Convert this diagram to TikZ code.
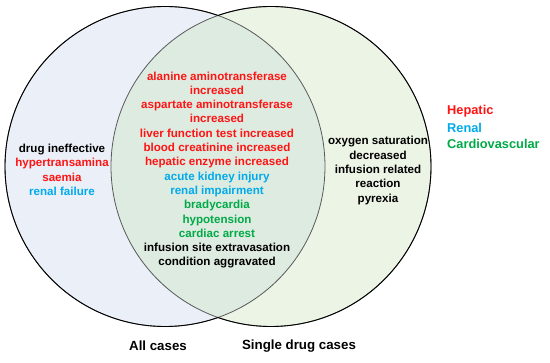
\documentclass[tikz,border=0pt]{standalone}
\usepackage{fontspec}
\setmainfont{Liberation Sans}
\definecolor{hred}{RGB}{255,20,20}
\definecolor{rblue}{RGB}{0,170,235}
\definecolor{cgreen}{RGB}{0,170,70}
\definecolor{leftfill}{RGB}{235,240,248}
\definecolor{rightfill}{RGB}{236,244,230}
\definecolor{bothfill}{RGB}{222,235,224}
\begin{document}
\begin{tikzpicture}[x=1pt,y=-1pt,
  txt/.style={font=\fontsize{11.6}{14.3}\selectfont\bfseries, align=center, inner sep=0pt},
  leg/.style={font=\fontsize{12.8}{16}\selectfont\bfseries, anchor=west, inner sep=0pt},
  lab/.style={font=\fontsize{13.3}{16}\selectfont\bfseries, inner sep=0pt}]
\useasboundingbox (0,0) rectangle (550,363);
\fill[white] (0,0) rectangle (550,363);
% fills
\fill[leftfill] (165,166.5) circle (160);
\fill[rightfill] (271,166.5) circle (160);
\begin{scope}
\clip (165,166.5) circle (160);
\fill[bothfill] (271,166.5) circle (160);
\end{scope}
% inner arcs (lighter)
\draw[black!65, line width=0.8pt] (165,166.5) circle (160);
\draw[black!65, line width=0.8pt] (271,166.5) circle (160);
% outer arcs (black)
\begin{scope}[even odd rule]
\clip (-10,-10) rectangle (560,373) (271,166.5) circle (160);
\draw[black, line width=0.9pt] (165,166.5) circle (160);
\end{scope}
\begin{scope}[even odd rule]
\clip (-10,-10) rectangle (560,373) (165,166.5) circle (160);
\draw[black, line width=0.9pt] (271,166.5) circle (160);
\end{scope}
% centre texts
\node[txt] (c1) at (217,170) {\color{hred}alanine aminotransferase\\\color{hred}increased\\\color{hred}aspartate aminotransferase\\\color{hred}increased\\\color{hred}liver function test increased\\\color{hred}blood creatinine increased\\\color{hred}hepatic enzyme increased\\\color{rblue}acute kidney injury\\\color{rblue}renal impairment\\\color{cgreen}bradycardia\\\color{cgreen}hypotension\\\color{cgreen}cardiac arrest\\infusion site extravasation\\condition aggravated};
% left texts
\node[txt] (l1) at (62,170) {drug ineffective\\\color{hred}hypertransamina\\\color{hred}saemia\\\color{rblue}renal failure};
% right texts
\node[txt] (r1) at (378,170.5) {oxygen saturation\\decreased\\infusion related\\reaction\\pyrexia};
% legend
\node[leg, text=hred] (lh) at (447,111) {Hepatic};
\node[leg, text=rblue] (lr) at (447,127.5) {Renal};
\node[leg, text=cgreen] (lc) at (447,144) {Cardiovascular};
% labels
\node[lab] (la) at (158,346) {All cases};
\node[lab] (lb) at (299,346) {Single drug cases};
\end{tikzpicture}
\end{document}
